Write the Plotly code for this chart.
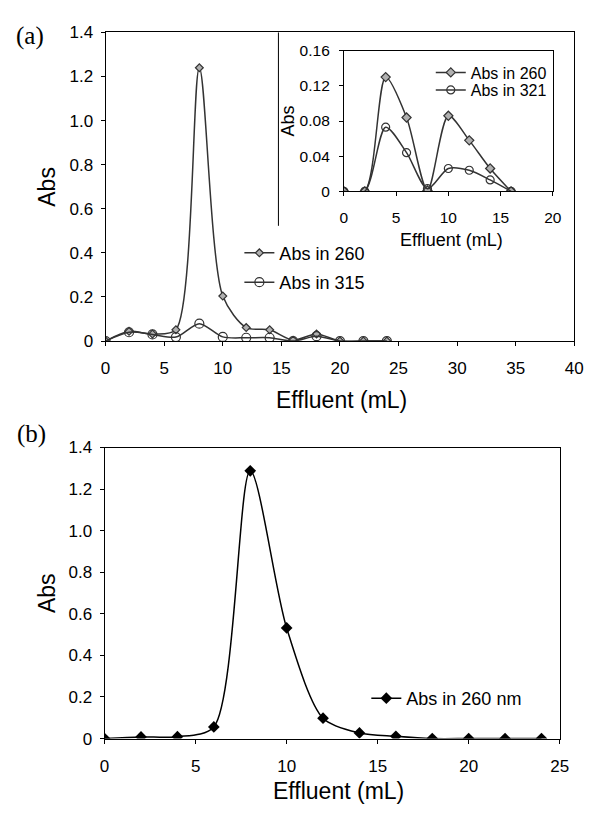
import plotly.graph_objects as go

# ---------------- data ----------------
effluent_a = [0, 2, 4, 6, 8, 10, 12, 14, 16, 18, 20, 22, 24]
abs260_a = [0.0, 0.044, 0.032, 0.051, 1.24, 0.204, 0.061, 0.051, 0.004, 0.032, 0.0, 0.0, 0.0]
abs315_a = [0.0, 0.040, 0.030, 0.018, 0.079, 0.019, 0.015, 0.015, 0.0, 0.022, 0.0, 0.0, 0.0]

effluent_inset = [0, 2, 4, 6, 8, 10, 12, 14, 16]
abs260_inset = [0.0, 0.0, 0.130, 0.084, 0.001, 0.086, 0.058, 0.026, 0.0]
abs321_inset = [0.0, 0.0, 0.073, 0.044, 0.003, 0.026, 0.024, 0.013, 0.0]

effluent_b = [0, 2, 4, 6, 8, 10, 12, 14, 16, 18, 20, 22, 24]
abs260_b = [0.0, 0.008, 0.009, 0.056, 1.288, 0.532, 0.098, 0.027, 0.011, 0.0, 0.0, 0.0, 0.0]

y_ticks_main = [0, 0.2, 0.4, 0.6, 0.8, 1.0, 1.2, 1.4]
y_ticklabels_main = ["0", "0.2", "0.4", "0.6", "0.8", "1.0", "1.2", "1.4"]
y_ticks_inset = [0, 0.04, 0.08, 0.12, 0.16]
y_ticklabels_inset = ["0", "0.04", "0.08", "0.12", "0.16"]

W, H = 597, 814
def px(x):
    return x / W
def py(y):
    return 1 - y / H

FONT = "Liberation Sans, Arial, sans-serif"
LC = "#333333"

fig = go.Figure()

# main (a)
fig.add_trace(go.Scatter(x=effluent_a, y=abs260_a, mode="lines+markers", name="Abs in 260",
                         line=dict(color=LC, width=1.5, shape="spline", smoothing=0.8),
                         marker=dict(symbol="diamond", size=6, color="#b0b0b0", line=dict(color=LC, width=1.2)),
                         xaxis="x", yaxis="y", legend="legend"))
fig.add_trace(go.Scatter(x=effluent_a, y=abs315_a, mode="lines+markers", name="Abs in 315",
                         line=dict(color=LC, width=1.5, shape="spline", smoothing=0.8),
                         marker=dict(symbol="circle-open", size=9, color=LC, line=dict(color=LC, width=1.2)),
                         xaxis="x", yaxis="y", legend="legend2"))
# inset
fig.add_trace(go.Scatter(x=effluent_inset, y=abs260_inset, mode="lines+markers", name="Abs in 260",
                         line=dict(color=LC, width=1.5, shape="spline", smoothing=0.8),
                         marker=dict(symbol="diamond", size=7, color="#b0b0b0", line=dict(color=LC, width=1.2)),
                         xaxis="x2", yaxis="y2", legend="legend3"))
fig.add_trace(go.Scatter(x=effluent_inset, y=abs321_inset, mode="lines+markers", name="Abs in 321",
                         line=dict(color=LC, width=1.5, shape="spline", smoothing=0.8),
                         marker=dict(symbol="circle-open", size=8, color=LC, line=dict(color=LC, width=1.2)),
                         xaxis="x2", yaxis="y2", legend="legend4"))
# (b)
fig.add_trace(go.Scatter(x=effluent_b, y=abs260_b, mode="lines+markers", name="Abs in 260 nm",
                         line=dict(color="black", width=1.5, shape="spline", smoothing=0.8),
                         marker=dict(symbol="diamond", size=9, color="black"),
                         xaxis="x3", yaxis="y3", legend="legend5"))

common_axis = dict(showline=True, linecolor="black", linewidth=1, mirror=True, showgrid=False,
                   zeroline=False, ticks="outside", ticklen=4, tickcolor="black")

fig.update_layout(
    width=W, height=H, margin=dict(l=0, r=0, t=0, b=0),
    paper_bgcolor="white", plot_bgcolor="rgba(0,0,0,0)",
    font=dict(family=FONT, color="black"),
    xaxis=dict(domain=[px(103), px(583)], range=[0, 40], dtick=5, anchor="y",
               tickfont=dict(size=17), ticklabelstandoff=8, **common_axis),
    yaxis=dict(domain=[py(340), py(24)], range=[0, 1.4], tickvals=y_ticks_main,
               ticktext=y_ticklabels_main, anchor="x", tickfont=dict(size=17),
               ticklabelstandoff=4, **common_axis),
    xaxis2=dict(domain=[px(347), px(561)], range=[0, 20], dtick=5, anchor="y2",
                tickfont=dict(size=15.5), ticklabelstandoff=8, **common_axis),
    yaxis2=dict(domain=[py(186.7), py(42.7)], range=[0, 0.16], tickvals=y_ticks_inset,
                ticktext=y_ticklabels_inset, anchor="x2", tickfont=dict(size=15.5),
                ticklabelstandoff=6, **common_axis),
    xaxis3=dict(domain=[px(102), px(568)], range=[0, 25], dtick=5, anchor="y3",
                tickfont=dict(size=17), ticklabelstandoff=8, **common_axis),
    yaxis3=dict(domain=[py(747), py(449)], range=[0, 1.4], tickvals=y_ticks_main,
                ticktext=y_ticklabels_main, anchor="x3", tickfont=dict(size=17),
                ticklabelstandoff=4, **common_axis),
    legend=dict(x=px(240), y=py(250), xanchor="left", yanchor="middle", bgcolor="rgba(0,0,0,0)",
                font=dict(size=18), borderwidth=0),
    legend2=dict(x=px(240), y=py(280), xanchor="left", yanchor="middle", bgcolor="rgba(0,0,0,0)",
                 font=dict(size=18), borderwidth=0),
    legend3=dict(x=px(436), y=py(65), xanchor="left", yanchor="middle", bgcolor="rgba(0,0,0,0)",
                 font=dict(size=16), borderwidth=0),
    legend4=dict(x=px(436), y=py(83), xanchor="left", yanchor="middle", bgcolor="rgba(0,0,0,0)",
                 font=dict(size=16), borderwidth=0),
    legend5=dict(x=px(370), y=py(706), xanchor="left", yanchor="middle", bgcolor="rgba(0,0,0,0)",
                 font=dict(size=18), borderwidth=0),
    showlegend=True,
)

# inset frame (left edge)
fig.add_shape(type="line", xref="paper", yref="paper", x0=px(280), x1=px(280), y0=py(24), y1=py(222),
              line=dict(color="black", width=1))

annos = [
    dict(text="(a)", x=px(26), y=py(28), font=dict(family="Liberation Serif, Times New Roman, serif", size=25)),
    dict(text="(b)", x=px(27), y=py(435), font=dict(family="Liberation Serif, Times New Roman, serif", size=25)),
    dict(text="Abs", x=px(43), y=py(182), textangle=-90, font=dict(size=23)),
    dict(text="Effluent (mL)", x=px(345), y=py(400), font=dict(size=23)),
    dict(text="Abs", x=px(290), y=py(115), textangle=-90, font=dict(size=18)),
    dict(text="Effluent (mL)", x=px(457), y=py(237), font=dict(size=18)),
    dict(text="Abs", x=px(43), y=py(598), textangle=-90, font=dict(size=23)),
    dict(text="Effluent (mL)", x=px(342), y=py(801), font=dict(size=23)),
]
for a in annos:
    fig.add_annotation(xref="paper", yref="paper", showarrow=False, xanchor="center", yanchor="middle",
                       font=dict(family=a["font"].get("family", FONT), size=a["font"]["size"], color="black"),
                       text=a["text"], x=a["x"], y=a["y"], textangle=a.get("textangle", 0))

fig.write_html("out.html", post_script="document.body.style.margin='0';",
               config={"displayModeBar": False})
